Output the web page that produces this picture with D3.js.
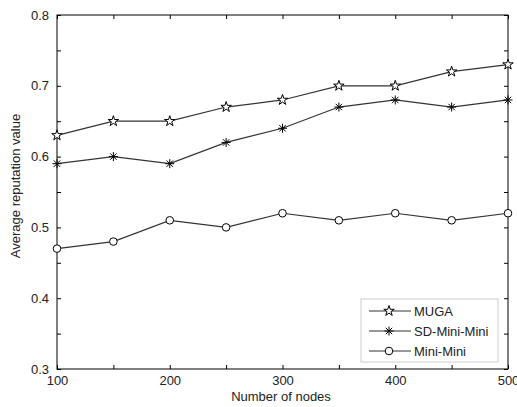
<!DOCTYPE html>
<html>
<head>
<meta charset="utf-8">
<script src="https://cdn.jsdelivr.net/npm/d3@7"></script>
<style>
  body { margin: 0; background: #fff; }
  svg { display: block; font-family: "Liberation Sans", Arial, sans-serif; }
</style>
</head>
<body>
<svg id="chart" width="517" height="407"></svg>
<script>
var nodes = [100, 150, 200, 250, 300, 350, 400, 450, 500];
var muga = [0.63, 0.65, 0.65, 0.67, 0.68, 0.70, 0.70, 0.72, 0.73];
var sdMiniMini = [0.59, 0.60, 0.59, 0.62, 0.64, 0.67, 0.68, 0.67, 0.68];
var miniMini = [0.47, 0.48, 0.51, 0.50, 0.52, 0.51, 0.52, 0.51, 0.52];
var seriesNames = ["MUGA", "SD-Mini-Mini", "Mini-Mini"];
var xTicks = [100, 150, 200, 250, 300, 350, 400, 450, 500];
var yTicks = [0.3, 0.35, 0.4, 0.45, 0.5, 0.55, 0.6, 0.65, 0.7, 0.75, 0.8];

(function() {
  var svg = d3.select("#chart");
  var left = 57, right = 508, top = 15, bottom = 369;
  var x = d3.scaleLinear().domain([100, 500]).range([left, right]);
  var y = d3.scaleLinear().domain([0.3, 0.8]).range([bottom, top]);
  var ink = "#000";
  var textCol = "#222";
  var fs = "13px";
  var tickLen = 4;

  var g = svg.append("g");

  // ticks on all four sides, pointing inward; labels only on round values
  var labelX = function(d) { return d % 100 === 0 ? d : ""; };
  var labelY = function(d) { return Math.abs(Math.round(d * 10) - d * 10) < 1e-6 ? d3.format(".1f")(d) : ""; };

  g.append("g").attr("transform", "translate(0," + bottom + ")")
    .call(d3.axisBottom(x).tickValues(xTicks).tickSizeInner(-tickLen).tickSizeOuter(0).tickPadding(7).tickFormat(labelX));
  g.append("g").attr("transform", "translate(0," + top + ")")
    .call(d3.axisTop(x).tickValues(xTicks).tickSizeInner(-tickLen).tickSizeOuter(0).tickFormat(""));
  g.append("g").attr("transform", "translate(" + left + ",0)")
    .call(d3.axisLeft(y).tickValues(yTicks).tickSizeInner(-tickLen).tickSizeOuter(0).tickPadding(8).tickFormat(labelY));
  g.append("g").attr("transform", "translate(" + right + ",0)")
    .call(d3.axisRight(y).tickValues(yTicks).tickSizeInner(-tickLen).tickSizeOuter(0).tickFormat(""));

  g.selectAll(".domain").remove();
  g.selectAll(".tick line").attr("stroke", ink);
  g.selectAll(".tick text").attr("fill", textCol).style("font-size", fs);

  svg.append("rect")
    .attr("x", left).attr("y", top)
    .attr("width", right - left).attr("height", bottom - top)
    .attr("fill", "none").attr("stroke", ink).attr("stroke-width", 1);

  var lineColor = "#333";
  var line = d3.line()
    .x(function(d, i) { return x(nodes[i]); })
    .y(function(d) { return y(d); });

  var starPath = d3.symbol().type(d3.symbolStar).size(34)();
  var asterisk = "M0,-4.5L0,4.5M-4.5,0L4.5,0M-3.2,-3.2L3.2,3.2M-3.2,3.2L3.2,-3.2";

  function drawMarker(sel, kind) {
    if (kind === 0) {
      sel.append("path").attr("d", starPath).attr("fill", "#fff").attr("stroke", ink).attr("stroke-width", 1);
    } else if (kind === 1) {
      sel.append("path").attr("d", asterisk).attr("fill", "none").attr("stroke", ink).attr("stroke-width", 1);
    } else {
      sel.append("circle").attr("r", 3.8).attr("fill", "#fff").attr("stroke", ink).attr("stroke-width", 1);
    }
  }

  var all = [muga, sdMiniMini, miniMini];
  all.forEach(function(vals, k) {
    svg.append("path")
      .datum(vals)
      .attr("d", line)
      .attr("fill", "none")
      .attr("stroke", lineColor)
      .attr("stroke-width", 1.2);
    svg.append("g").selectAll("g")
      .data(vals)
      .enter().append("g")
      .attr("transform", function(d, i) { return "translate(" + x(nodes[i]) + "," + y(d) + ")"; })
      .each(function() { drawMarker(d3.select(this), k); });
  });

  // legend
  var lg = svg.append("g").attr("transform", "translate(361,299)");
  lg.append("rect").attr("width", 137).attr("height", 63)
    .attr("fill", "#fff").attr("stroke", "#ccc").attr("stroke-width", 1);
  seriesNames.forEach(function(name, k) {
    var row = lg.append("g").attr("transform", "translate(0," + (12 + k * 20) + ")");
    row.append("line").attr("x1", 8).attr("x2", 50).attr("y1", 0).attr("y2", 0)
      .attr("stroke", lineColor).attr("stroke-width", 1.2);
    drawMarker(row.append("g").attr("transform", "translate(28,0)"), k);
    row.append("text").attr("x", 53).attr("y", 0).attr("dy", "0.35em")
      .style("font-size", fs).attr("fill", textCol).text(name);
  });

  // axis titles
  svg.append("text")
    .attr("x", 281).attr("y", 401)
    .attr("text-anchor", "middle")
    .style("font-size", fs).attr("fill", textCol)
    .text("Number of nodes");
  svg.append("text")
    .attr("transform", "translate(20,186) rotate(-90)")
    .attr("text-anchor", "middle")
    .style("font-size", fs).attr("fill", textCol)
    .text("Average reputation value");
})();
</script>
</body>
</html>
